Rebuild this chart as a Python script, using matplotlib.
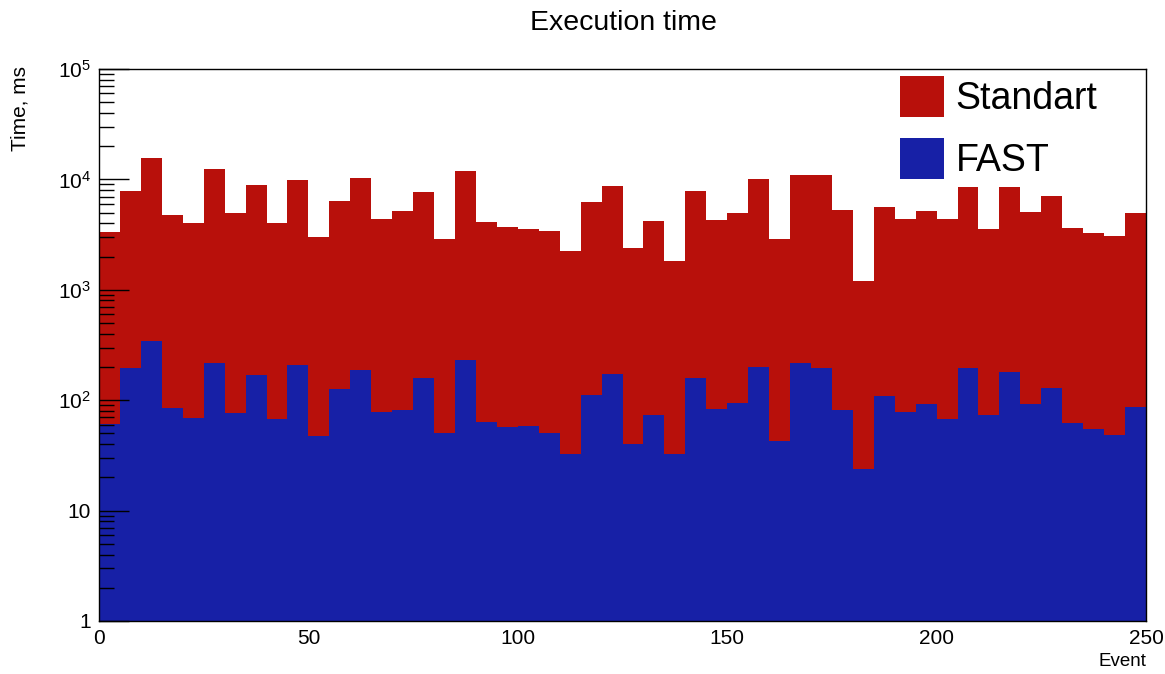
import matplotlib
matplotlib.use("Agg")
import matplotlib.pyplot as plt
import numpy as np
from matplotlib.ticker import FixedLocator, FixedFormatter, NullFormatter

plt.rcParams["font.family"] = ["Liberation Sans", "DejaVu Sans"]
plt.rcParams["mathtext.fontset"] = "custom"
plt.rcParams["mathtext.rm"] = "Liberation Sans"
plt.rcParams["mathtext.it"] = "Liberation Sans:italic"

# 50 bins of width 5 over events 0..250
bin_edges = np.arange(0, 251, 5)

# execution time per bin, ms
standart_ms = [
    3320, 7900, 15500, 4730, 4000, 12300, 4960, 8850, 4000, 9820,
    2990, 6370, 10200, 4350, 5170, 7740, 2900, 11800, 4080, 3680,
    3530, 3390, 2260, 6240, 8770, 2410, 4180, 1820, 7900, 4270,
    4960, 10100, 2870, 10900, 10900, 5250, 1195, 5590, 4350, 5140,
    4350, 8530, 3530, 8530, 5070, 7080, 3600, 3250, 3050, 4960,
]
fast_ms = [
    61, 197, 344, 85, 68.5, 219, 76, 170, 67, 210,
    47.7, 126, 189, 78, 81.5, 159, 50.5, 233, 63, 57.6,
    58.8, 50.5, 32.8, 111, 174, 40.4, 73, 32.8, 160, 83,
    94, 201, 43, 216, 197, 81.5, 23.8, 109, 78, 92,
    67, 197, 73, 181, 92, 129, 62, 55, 48.7, 86,
]

y_major = [1, 10, 100, 1e3, 1e4, 1e5]
y_labels = ["1", "10", "$10^{2}$", "$10^{3}$", "$10^{4}$", "$10^{5}$"]
x_ticks = [0, 50, 100, 150, 200, 250]

red = "#b8100b"
blue = "#1720a6"

fig = plt.figure(figsize=(11.65, 6.74), dpi=100)
ax = fig.add_axes([99 / 1165, 1 - 621 / 674, 1047 / 1165, 552 / 674])

ax.stairs(standart_ms, bin_edges, fill=True, color=red, baseline=0.5,
          label="Standart")
ax.stairs(fast_ms, bin_edges, fill=True, color=blue, baseline=0.5,
          label="FAST")

ax.set_yscale("log")
ax.set_ylim(1, 1e5)
ax.set_xlim(0, 250)

ax.yaxis.set_major_locator(FixedLocator(y_major))
ax.yaxis.set_major_formatter(FixedFormatter(y_labels))
minors = [m * 10.0 ** e for e in range(0, 5) for m in range(2, 10)]
ax.yaxis.set_minor_locator(FixedLocator(minors))
ax.yaxis.set_minor_formatter(NullFormatter())
ax.tick_params(axis="y", which="major", direction="in", length=21.5,
               width=1, labelsize=15, pad=6)
ax.tick_params(axis="y", which="minor", direction="in", length=10.8, width=1)

ax.set_xticks(x_ticks)
ax.tick_params(axis="x", which="both", length=0, labelsize=15, pad=6)

for sp in ax.spines.values():
    sp.set_linewidth(1)
    sp.set_color("black")

fig.text(623 / 1165, 1 - 23 / 674, "Execution time", ha="center", va="center",
         fontsize=20.5)
fig.text(20 / 1165, 1 - 66 / 674, "Time, ms", rotation=90, ha="center",
         va="top", fontsize=15)
fig.text(1146 / 1165, 1 - 662 / 674, "Event", ha="right", va="center",
         fontsize=13.5)

ax.legend(loc="upper left", bbox_to_anchor=(0.744, 1.028), frameon=False,
          fontsize=27, handlelength=1.17, handleheight=1.3,
          handletextpad=0.3, labelspacing=0.56, borderaxespad=0.2)

fig.savefig("out.png", dpi=100)
